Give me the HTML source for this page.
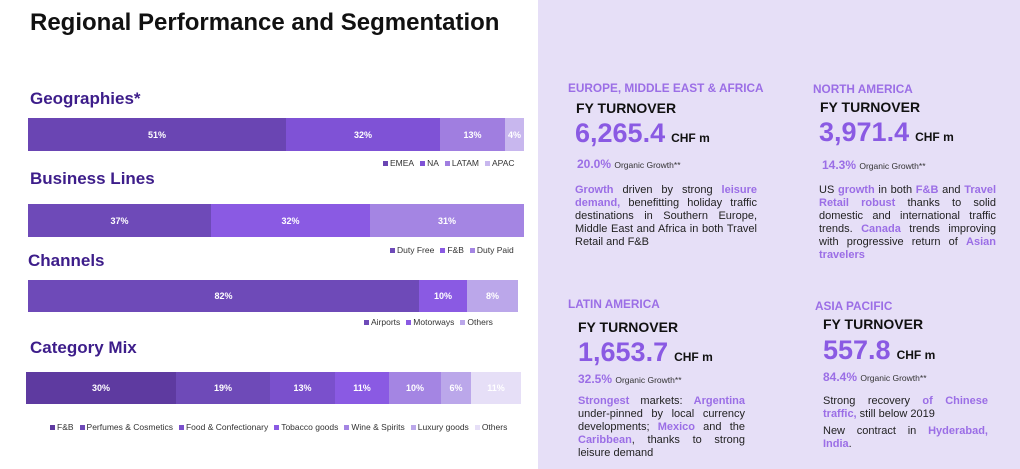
<!DOCTYPE html><html><head><meta charset="utf-8"><style>
body{margin:0;width:1020px;height:469px;background:#fff;position:relative;overflow:hidden;font-family:"Liberation Sans",sans-serif}
.a{position:absolute;white-space:nowrap}
.t{font-weight:bold;color:#3d1d8a;font-size:17px}
.bar{position:absolute;display:flex;height:33px}
.bar div{height:100%;display:flex;align-items:center;justify-content:center;color:#fff;font-size:9px;font-weight:bold}
.lg{position:absolute;font-size:8.5px;color:#333;white-space:nowrap}
.lg i{display:inline-block;width:5px;height:5px;margin:0 2px 0 6px}
.rp{position:absolute;left:538px;top:0;width:482px;height:469px;background:#e6dff7}
.h{font-weight:bold;color:#9b6ee6;font-size:11.8px}
.fy{font-weight:bold;color:#111;font-size:14px}
.n{font-weight:bold;color:#8a5ae3;font-size:27px}
.n span{font-size:12px;color:#111;margin-left:6px}
.g{color:#9b6ee6;font-weight:bold;font-size:12px}
.g span{color:#333;font-weight:normal;font-size:8.5px}
.p{position:absolute;font-size:11px;line-height:13px;color:#222;text-align:justify;text-align-last:left}
.p b{color:#9b6ee6}
</style></head><body>
<div class="a" style="left:30px;top:9px;font-size:24px;font-weight:bold;color:#111">Regional Performance and Segmentation</div>
<div class="rp"></div>

<div class="a t" style="left:30px;top:89px">Geographies*</div>
<div class="bar" style="left:28px;top:118px;width:496px"><div style="width:258px;background:#6a45b3">51%</div><div style="width:154px;background:#7f52d6">32%</div><div style="width:65px;background:#a07ee0">13%</div><div style="width:19px;background:#c8b7ee">4%</div></div>
<div class="lg" style="left:377px;top:158px"><i style="background:#6a45b3"></i>EMEA<i style="background:#7f52d6"></i>NA<i style="background:#a07ee0"></i>LATAM<i style="background:#c8b7ee"></i>APAC</div>

<div class="a t" style="left:30px;top:169px">Business Lines</div>
<div class="bar" style="left:28px;top:204px;width:496px"><div style="width:183px;background:#6e4ab8">37%</div><div style="width:159px;background:#8a5ae3">32%</div><div style="width:154px;background:#a485e3">31%</div></div>
<div class="lg" style="left:384px;top:245px"><i style="background:#6e4ab8"></i>Duty Free<i style="background:#8a5ae3"></i>F&amp;B<i style="background:#a485e3"></i>Duty Paid</div>

<div class="a t" style="left:28px;top:251px">Channels</div>
<div class="bar" style="left:28px;top:280px;width:490px;height:32px"><div style="width:391px;background:#6e4ab8">82%</div><div style="width:48px;background:#8a5ae3">10%</div><div style="width:51px;background:#bba7ea">8%</div></div>
<div class="lg" style="left:358px;top:317px"><i style="background:#6e4ab8"></i>Airports<i style="background:#8a5ae3"></i>Motorways<i style="background:#bba7ea"></i>Others</div>

<div class="a t" style="left:30px;top:338px">Category Mix</div>
<div class="bar" style="left:26px;top:372px;width:495px;height:32px"><div style="width:150px;background:#5e3aa0">30%</div><div style="width:94px;background:#6e4ab8">19%</div><div style="width:65px;background:#7a50cc">13%</div><div style="width:54px;background:#8a5ae3">11%</div><div style="width:52px;background:#a485e3">10%</div><div style="width:30px;background:#bba7ea">6%</div><div style="width:50px;background:#e6dff7">11%</div></div>
<div class="lg" style="left:44px;top:422px"><i style="background:#5e3aa0"></i>F&amp;B<i style="background:#6e4ab8"></i>Perfumes &amp; Cosmetics<i style="background:#7a50cc"></i>Food &amp; Confectionary<i style="background:#8a5ae3"></i>Tobacco goods<i style="background:#a485e3"></i>Wine &amp; Spirits<i style="background:#bba7ea"></i>Luxury goods<i style="background:#e6dff7"></i>Others</div>

<div class="a h" style="left:568px;top:81px">EUROPE, MIDDLE EAST &amp; AFRICA</div>
<div class="a fy" style="left:576px;top:100px">FY TURNOVER</div>
<div class="a n" style="left:575px;top:118px">6,265.4<span>CHF m</span></div>
<div class="a g" style="left:577px;top:157px">20.0% <span>Organic Growth**</span></div>
<div class="p" style="left:575px;top:184px;width:182px"><b>Growth</b> driven by strong <b>leisure demand,</b> benefitting holiday traffic destinations in Southern Europe, Middle East and Africa in both Travel Retail and F&amp;B</div>

<div class="a h" style="left:813px;top:82px">NORTH AMERICA</div>
<div class="a fy" style="left:820px;top:99px">FY TURNOVER</div>
<div class="a n" style="left:819px;top:117px">3,971.4<span>CHF m</span></div>
<div class="a g" style="left:822px;top:158px">14.3% <span>Organic Growth**</span></div>
<div class="p" style="left:819px;top:184px;width:177px">US <b>growth</b> in both <b>F&amp;B</b> and <b>Travel Retail robust</b> thanks to solid domestic and international traffic trends. <b>Canada</b> trends improving with progressive return of <b>Asian travelers</b></div>

<div class="a h" style="left:568px;top:297px">LATIN AMERICA</div>
<div class="a fy" style="left:578px;top:319px">FY TURNOVER</div>
<div class="a n" style="left:578px;top:337px">1,653.7<span>CHF m</span></div>
<div class="a g" style="left:578px;top:372px">32.5% <span>Organic Growth**</span></div>
<div class="p" style="left:578px;top:395px;width:167px"><b>Strongest</b> markets: <b>Argentina</b> under-pinned by local currency developments; <b>Mexico</b> and the <b>Caribbean</b>, thanks to strong leisure demand</div>

<div class="a h" style="left:815px;top:299px">ASIA PACIFIC</div>
<div class="a fy" style="left:823px;top:316px">FY TURNOVER</div>
<div class="a n" style="left:823px;top:335px">557.8<span>CHF m</span></div>
<div class="a g" style="left:823px;top:370px">84.4% <span>Organic Growth**</span></div>
<div class="p" style="left:823px;top:395px;width:165px">Strong recovery <b>of Chinese traffic,</b> still below 2019</div>
<div class="p" style="left:823px;top:425px;width:165px">New contract in <b>Hyderabad, India</b>.</div>
</body></html>
